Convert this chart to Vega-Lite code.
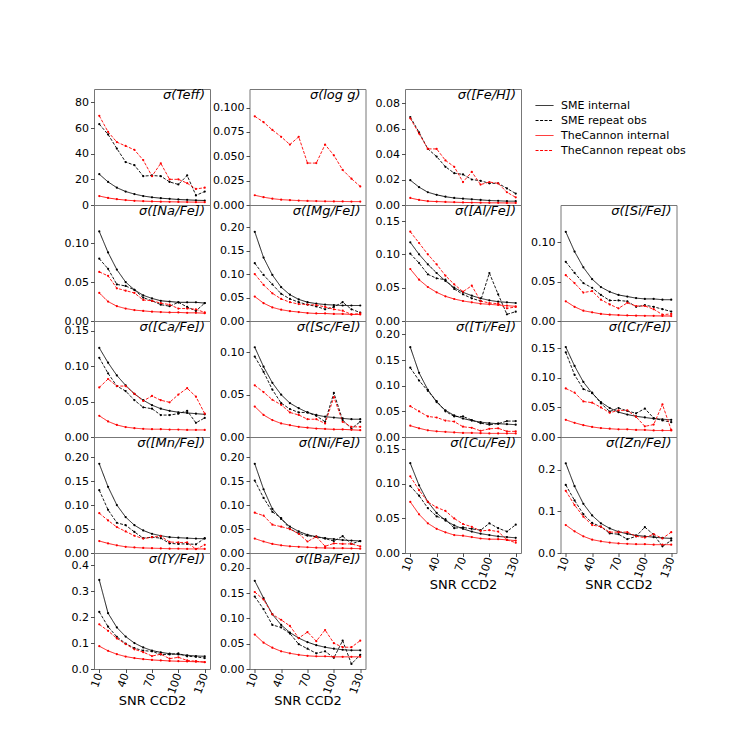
{
  "$schema": "https://vega.github.io/schema/vega-lite/v6.json",
  "padding": {"left": 63, "top": 88, "right": 5, "bottom": 5},
  "background": "white",
  "data": {"values": [
    {"el":"Teff","snr":10,"sme_int":24,"sme_rep":63,"tc_int":7,"tc_rep":69.5},
    {"el":"Teff","snr":20,"sme_int":18,"sme_rep":55,"tc_int":5.5,"tc_rep":57},
    {"el":"Teff","snr":30,"sme_int":13.5,"sme_rep":44,"tc_int":4.5,"tc_rep":49},
    {"el":"Teff","snr":40,"sme_int":10.5,"sme_rep":33.5,"tc_int":3.8,"tc_rep":46},
    {"el":"Teff","snr":50,"sme_int":8.5,"sme_rep":31,"tc_int":3.3,"tc_rep":43},
    {"el":"Teff","snr":60,"sme_int":7,"sme_rep":22.5,"tc_int":3,"tc_rep":35},
    {"el":"Teff","snr":70,"sme_int":6,"sme_rep":23,"tc_int":2.8,"tc_rep":22.5},
    {"el":"Teff","snr":80,"sme_int":5.3,"sme_rep":22.5,"tc_int":2.6,"tc_rep":32.5},
    {"el":"Teff","snr":90,"sme_int":4.8,"sme_rep":18,"tc_int":2.5,"tc_rep":20},
    {"el":"Teff","snr":100,"sme_int":4.3,"sme_rep":16,"tc_int":2.4,"tc_rep":20},
    {"el":"Teff","snr":110,"sme_int":4,"sme_rep":23,"tc_int":2.3,"tc_rep":17},
    {"el":"Teff","snr":120,"sme_int":3.7,"sme_rep":7.5,"tc_int":2.2,"tc_rep":12.5},
    {"el":"Teff","snr":130,"sme_int":3.5,"sme_rep":10.5,"tc_int":2.2,"tc_rep":13.5},

    {"el":"logg","snr":10,"sme_int":null,"sme_rep":null,"tc_int":0.010,"tc_rep":0.091},
    {"el":"logg","snr":20,"sme_int":null,"sme_rep":null,"tc_int":0.008,"tc_rep":0.085},
    {"el":"logg","snr":30,"sme_int":null,"sme_rep":null,"tc_int":0.0065,"tc_rep":0.077},
    {"el":"logg","snr":40,"sme_int":null,"sme_rep":null,"tc_int":0.0055,"tc_rep":0.070},
    {"el":"logg","snr":50,"sme_int":null,"sme_rep":null,"tc_int":0.005,"tc_rep":0.062},
    {"el":"logg","snr":60,"sme_int":null,"sme_rep":null,"tc_int":0.0045,"tc_rep":0.070},
    {"el":"logg","snr":70,"sme_int":null,"sme_rep":null,"tc_int":0.0042,"tc_rep":0.043},
    {"el":"logg","snr":80,"sme_int":null,"sme_rep":null,"tc_int":0.004,"tc_rep":0.043},
    {"el":"logg","snr":90,"sme_int":null,"sme_rep":null,"tc_int":0.0038,"tc_rep":0.062},
    {"el":"logg","snr":100,"sme_int":null,"sme_rep":null,"tc_int":0.0037,"tc_rep":0.051},
    {"el":"logg","snr":110,"sme_int":null,"sme_rep":null,"tc_int":0.0036,"tc_rep":0.036},
    {"el":"logg","snr":120,"sme_int":null,"sme_rep":null,"tc_int":0.0035,"tc_rep":0.027},
    {"el":"logg","snr":130,"sme_int":null,"sme_rep":null,"tc_int":0.0035,"tc_rep":0.019},

    {"el":"FeH","snr":10,"sme_int":0.0195,"sme_rep":0.069,"tc_int":0.0055,"tc_rep":0.068},
    {"el":"FeH","snr":20,"sme_int":0.014,"sme_rep":0.057,"tc_int":0.004,"tc_rep":0.056},
    {"el":"FeH","snr":30,"sme_int":0.010,"sme_rep":0.044,"tc_int":0.003,"tc_rep":0.044},
    {"el":"FeH","snr":40,"sme_int":0.008,"sme_rep":0.038,"tc_int":0.0027,"tc_rep":0.044},
    {"el":"FeH","snr":50,"sme_int":0.0065,"sme_rep":0.030,"tc_int":0.0024,"tc_rep":0.035},
    {"el":"FeH","snr":60,"sme_int":0.0055,"sme_rep":0.025,"tc_int":0.0022,"tc_rep":0.030},
    {"el":"FeH","snr":70,"sme_int":0.005,"sme_rep":0.024,"tc_int":0.002,"tc_rep":0.018},
    {"el":"FeH","snr":80,"sme_int":0.0045,"sme_rep":0.020,"tc_int":0.0019,"tc_rep":0.026},
    {"el":"FeH","snr":90,"sme_int":0.004,"sme_rep":0.019,"tc_int":0.0018,"tc_rep":0.016},
    {"el":"FeH","snr":100,"sme_int":0.0035,"sme_rep":0.017,"tc_int":0.0017,"tc_rep":0.018},
    {"el":"FeH","snr":110,"sme_int":0.0033,"sme_rep":0.017,"tc_int":0.0017,"tc_rep":0.017},
    {"el":"FeH","snr":120,"sme_int":0.003,"sme_rep":0.013,"tc_int":0.0016,"tc_rep":0.010},
    {"el":"FeH","snr":130,"sme_int":0.003,"sme_rep":0.009,"tc_int":0.0016,"tc_rep":0.006},

    {"el":"Na","snr":10,"sme_int":0.115,"sme_rep":0.080,"tc_int":0.036,"tc_rep":0.063},
    {"el":"Na","snr":20,"sme_int":0.088,"sme_rep":0.067,"tc_int":0.025,"tc_rep":0.058},
    {"el":"Na","snr":30,"sme_int":0.066,"sme_rep":0.047,"tc_int":0.019,"tc_rep":0.042},
    {"el":"Na","snr":40,"sme_int":0.050,"sme_rep":0.045,"tc_int":0.016,"tc_rep":0.039},
    {"el":"Na","snr":50,"sme_int":0.040,"sme_rep":0.040,"tc_int":0.014,"tc_rep":0.036},
    {"el":"Na","snr":60,"sme_int":0.033,"sme_rep":0.030,"tc_int":0.013,"tc_rep":0.027},
    {"el":"Na","snr":70,"sme_int":0.029,"sme_rep":0.026,"tc_int":0.012,"tc_rep":0.026},
    {"el":"Na","snr":80,"sme_int":0.026,"sme_rep":0.021,"tc_int":0.0115,"tc_rep":0.023},
    {"el":"Na","snr":90,"sme_int":0.025,"sme_rep":0.019,"tc_int":0.011,"tc_rep":0.021},
    {"el":"Na","snr":100,"sme_int":0.024,"sme_rep":0.024,"tc_int":0.011,"tc_rep":0.016},
    {"el":"Na","snr":110,"sme_int":0.024,"sme_rep":0.018,"tc_int":0.0105,"tc_rep":0.016},
    {"el":"Na","snr":120,"sme_int":0.024,"sme_rep":0.013,"tc_int":0.0105,"tc_rep":0.015},
    {"el":"Na","snr":130,"sme_int":0.023,"sme_rep":0.023,"tc_int":0.010,"tc_rep":0.011},

    {"el":"Mg","snr":10,"sme_int":0.190,"sme_rep":0.123,"tc_int":0.052,"tc_rep":0.100},
    {"el":"Mg","snr":20,"sme_int":0.135,"sme_rep":0.098,"tc_int":0.038,"tc_rep":0.077},
    {"el":"Mg","snr":30,"sme_int":0.098,"sme_rep":0.078,"tc_int":0.029,"tc_rep":0.059},
    {"el":"Mg","snr":40,"sme_int":0.072,"sme_rep":0.058,"tc_int":0.024,"tc_rep":0.047},
    {"el":"Mg","snr":50,"sme_int":0.056,"sme_rep":0.047,"tc_int":0.021,"tc_rep":0.040},
    {"el":"Mg","snr":60,"sme_int":0.046,"sme_rep":0.040,"tc_int":0.019,"tc_rep":0.036},
    {"el":"Mg","snr":70,"sme_int":0.040,"sme_rep":0.035,"tc_int":0.017,"tc_rep":0.035},
    {"el":"Mg","snr":80,"sme_int":0.037,"sme_rep":0.031,"tc_int":0.016,"tc_rep":0.034},
    {"el":"Mg","snr":90,"sme_int":0.035,"sme_rep":0.025,"tc_int":0.016,"tc_rep":0.030},
    {"el":"Mg","snr":100,"sme_int":0.034,"sme_rep":0.030,"tc_int":0.015,"tc_rep":0.025},
    {"el":"Mg","snr":110,"sme_int":0.033,"sme_rep":0.040,"tc_int":0.015,"tc_rep":0.022},
    {"el":"Mg","snr":120,"sme_int":0.033,"sme_rep":0.025,"tc_int":0.014,"tc_rep":0.014},
    {"el":"Mg","snr":130,"sme_int":0.033,"sme_rep":0.018,"tc_int":0.014,"tc_rep":0.016},

    {"el":"Al","snr":10,"sme_int":0.118,"sme_rep":0.101,"tc_int":0.078,"tc_rep":0.134},
    {"el":"Al","snr":20,"sme_int":0.100,"sme_rep":0.087,"tc_int":0.062,"tc_rep":0.117},
    {"el":"Al","snr":30,"sme_int":0.085,"sme_rep":0.070,"tc_int":0.051,"tc_rep":0.100},
    {"el":"Al","snr":40,"sme_int":0.072,"sme_rep":0.064,"tc_int":0.043,"tc_rep":0.085},
    {"el":"Al","snr":50,"sme_int":0.060,"sme_rep":0.062,"tc_int":0.037,"tc_rep":0.068},
    {"el":"Al","snr":60,"sme_int":0.050,"sme_rep":0.048,"tc_int":0.033,"tc_rep":0.055},
    {"el":"Al","snr":70,"sme_int":0.043,"sme_rep":0.040,"tc_int":0.030,"tc_rep":0.044},
    {"el":"Al","snr":80,"sme_int":0.038,"sme_rep":0.034,"tc_int":0.028,"tc_rep":0.053},
    {"el":"Al","snr":90,"sme_int":0.034,"sme_rep":0.030,"tc_int":0.026,"tc_rep":0.030},
    {"el":"Al","snr":100,"sme_int":0.031,"sme_rep":0.072,"tc_int":0.025,"tc_rep":0.027},
    {"el":"Al","snr":110,"sme_int":0.029,"sme_rep":0.040,"tc_int":0.024,"tc_rep":0.026},
    {"el":"Al","snr":120,"sme_int":0.028,"sme_rep":0.010,"tc_int":0.023,"tc_rep":0.019},
    {"el":"Al","snr":130,"sme_int":0.027,"sme_rep":0.014,"tc_int":0.022,"tc_rep":0.021},

    {"el":"Si","snr":10,"sme_int":0.113,"sme_rep":0.075,"tc_int":0.025,"tc_rep":0.058},
    {"el":"Si","snr":20,"sme_int":0.088,"sme_rep":0.061,"tc_int":0.018,"tc_rep":0.048},
    {"el":"Si","snr":30,"sme_int":0.068,"sme_rep":0.048,"tc_int":0.013,"tc_rep":0.036},
    {"el":"Si","snr":40,"sme_int":0.053,"sme_rep":0.042,"tc_int":0.011,"tc_rep":0.038},
    {"el":"Si","snr":50,"sme_int":0.043,"sme_rep":0.033,"tc_int":0.009,"tc_rep":0.027},
    {"el":"Si","snr":60,"sme_int":0.037,"sme_rep":0.026,"tc_int":0.008,"tc_rep":0.021},
    {"el":"Si","snr":70,"sme_int":0.033,"sme_rep":0.026,"tc_int":0.0075,"tc_rep":0.016},
    {"el":"Si","snr":80,"sme_int":0.031,"sme_rep":0.025,"tc_int":0.007,"tc_rep":0.023},
    {"el":"Si","snr":90,"sme_int":0.029,"sme_rep":0.018,"tc_int":0.0068,"tc_rep":0.019},
    {"el":"Si","snr":100,"sme_int":0.028,"sme_rep":0.020,"tc_int":0.0066,"tc_rep":0.019},
    {"el":"Si","snr":110,"sme_int":0.028,"sme_rep":0.018,"tc_int":0.0065,"tc_rep":0.015},
    {"el":"Si","snr":120,"sme_int":0.027,"sme_rep":0.015,"tc_int":0.0064,"tc_rep":0.008},
    {"el":"Si","snr":130,"sme_int":0.027,"sme_rep":0.012,"tc_int":0.0063,"tc_rep":0.009},

    {"el":"Ca","snr":10,"sme_int":0.126,"sme_rep":0.112,"tc_int":0.030,"tc_rep":0.070},
    {"el":"Ca","snr":20,"sme_int":0.105,"sme_rep":0.090,"tc_int":0.022,"tc_rep":0.082},
    {"el":"Ca","snr":30,"sme_int":0.087,"sme_rep":0.072,"tc_int":0.017,"tc_rep":0.072},
    {"el":"Ca","snr":40,"sme_int":0.073,"sme_rep":0.065,"tc_int":0.014,"tc_rep":0.072},
    {"el":"Ca","snr":50,"sme_int":0.061,"sme_rep":0.052,"tc_int":0.0125,"tc_rep":0.061},
    {"el":"Ca","snr":60,"sme_int":0.052,"sme_rep":0.042,"tc_int":0.0115,"tc_rep":0.051},
    {"el":"Ca","snr":70,"sme_int":0.045,"sme_rep":0.040,"tc_int":0.011,"tc_rep":0.058},
    {"el":"Ca","snr":80,"sme_int":0.040,"sme_rep":0.031,"tc_int":0.011,"tc_rep":0.052},
    {"el":"Ca","snr":90,"sme_int":0.037,"sme_rep":0.031,"tc_int":0.0105,"tc_rep":0.049},
    {"el":"Ca","snr":100,"sme_int":0.035,"sme_rep":0.033,"tc_int":0.0105,"tc_rep":0.060},
    {"el":"Ca","snr":110,"sme_int":0.034,"sme_rep":0.037,"tc_int":0.010,"tc_rep":0.069},
    {"el":"Ca","snr":120,"sme_int":0.033,"sme_rep":0.020,"tc_int":0.010,"tc_rep":0.057},
    {"el":"Ca","snr":130,"sme_int":0.032,"sme_rep":0.027,"tc_int":0.010,"tc_rep":0.033},

    {"el":"Sc","snr":10,"sme_int":0.106,"sme_rep":0.095,"tc_int":0.036,"tc_rep":0.061},
    {"el":"Sc","snr":20,"sme_int":0.083,"sme_rep":0.077,"tc_int":0.026,"tc_rep":0.053},
    {"el":"Sc","snr":30,"sme_int":0.064,"sme_rep":0.056,"tc_int":0.020,"tc_rep":0.044},
    {"el":"Sc","snr":40,"sme_int":0.050,"sme_rep":0.040,"tc_int":0.016,"tc_rep":0.038},
    {"el":"Sc","snr":50,"sme_int":0.040,"sme_rep":0.033,"tc_int":0.014,"tc_rep":0.029},
    {"el":"Sc","snr":60,"sme_int":0.034,"sme_rep":0.029,"tc_int":0.012,"tc_rep":0.026},
    {"el":"Sc","snr":70,"sme_int":0.029,"sme_rep":0.029,"tc_int":0.011,"tc_rep":0.021},
    {"el":"Sc","snr":80,"sme_int":0.026,"sme_rep":0.025,"tc_int":0.010,"tc_rep":0.021},
    {"el":"Sc","snr":90,"sme_int":0.024,"sme_rep":0.018,"tc_int":0.0095,"tc_rep":0.016},
    {"el":"Sc","snr":100,"sme_int":0.023,"sme_rep":0.052,"tc_int":0.009,"tc_rep":0.047},
    {"el":"Sc","snr":110,"sme_int":0.022,"sme_rep":0.020,"tc_int":0.009,"tc_rep":0.018},
    {"el":"Sc","snr":120,"sme_int":0.021,"sme_rep":0.010,"tc_int":0.0085,"tc_rep":0.012},
    {"el":"Sc","snr":130,"sme_int":0.021,"sme_rep":0.018,"tc_int":0.008,"tc_rep":0.012},

    {"el":"Ti","snr":10,"sme_int":0.175,"sme_rep":0.135,"tc_int":0.022,"tc_rep":0.060},
    {"el":"Ti","snr":20,"sme_int":0.125,"sme_rep":0.110,"tc_int":0.017,"tc_rep":0.050},
    {"el":"Ti","snr":30,"sme_int":0.092,"sme_rep":0.090,"tc_int":0.013,"tc_rep":0.040},
    {"el":"Ti","snr":40,"sme_int":0.068,"sme_rep":0.070,"tc_int":0.011,"tc_rep":0.038},
    {"el":"Ti","snr":50,"sme_int":0.052,"sme_rep":0.050,"tc_int":0.010,"tc_rep":0.032},
    {"el":"Ti","snr":60,"sme_int":0.042,"sme_rep":0.040,"tc_int":0.009,"tc_rep":0.030},
    {"el":"Ti","snr":70,"sme_int":0.036,"sme_rep":0.040,"tc_int":0.008,"tc_rep":0.020},
    {"el":"Ti","snr":80,"sme_int":0.032,"sme_rep":0.033,"tc_int":0.008,"tc_rep":0.018},
    {"el":"Ti","snr":90,"sme_int":0.029,"sme_rep":0.027,"tc_int":0.0075,"tc_rep":0.012},
    {"el":"Ti","snr":100,"sme_int":0.027,"sme_rep":0.024,"tc_int":0.007,"tc_rep":0.016},
    {"el":"Ti","snr":110,"sme_int":0.026,"sme_rep":0.026,"tc_int":0.007,"tc_rep":0.017},
    {"el":"Ti","snr":120,"sme_int":0.025,"sme_rep":0.031,"tc_int":0.007,"tc_rep":0.011},
    {"el":"Ti","snr":130,"sme_int":0.024,"sme_rep":0.031,"tc_int":0.007,"tc_rep":0.011},

    {"el":"Cr","snr":10,"sme_int":0.152,"sme_rep":0.143,"tc_int":0.029,"tc_rep":0.082},
    {"el":"Cr","snr":20,"sme_int":0.120,"sme_rep":0.105,"tc_int":0.024,"tc_rep":0.075},
    {"el":"Cr","snr":30,"sme_int":0.093,"sme_rep":0.081,"tc_int":0.020,"tc_rep":0.060},
    {"el":"Cr","snr":40,"sme_int":0.074,"sme_rep":0.075,"tc_int":0.017,"tc_rep":0.058},
    {"el":"Cr","snr":50,"sme_int":0.059,"sme_rep":0.057,"tc_int":0.015,"tc_rep":0.050},
    {"el":"Cr","snr":60,"sme_int":0.049,"sme_rep":0.043,"tc_int":0.014,"tc_rep":0.041},
    {"el":"Cr","snr":70,"sme_int":0.042,"sme_rep":0.049,"tc_int":0.013,"tc_rep":0.045},
    {"el":"Cr","snr":80,"sme_int":0.038,"sme_rep":0.044,"tc_int":0.013,"tc_rep":0.045},
    {"el":"Cr","snr":90,"sme_int":0.035,"sme_rep":0.040,"tc_int":0.012,"tc_rep":0.034},
    {"el":"Cr","snr":100,"sme_int":0.033,"sme_rep":0.048,"tc_int":0.012,"tc_rep":0.018},
    {"el":"Cr","snr":110,"sme_int":0.031,"sme_rep":0.032,"tc_int":0.011,"tc_rep":0.021},
    {"el":"Cr","snr":120,"sme_int":0.030,"sme_rep":0.028,"tc_int":0.011,"tc_rep":0.055},
    {"el":"Cr","snr":130,"sme_int":0.029,"sme_rep":0.025,"tc_int":0.011,"tc_rep":0.012},

    {"el":"Mn","snr":10,"sme_int":0.186,"sme_rep":0.131,"tc_int":0.025,"tc_rep":0.083},
    {"el":"Mn","snr":20,"sme_int":0.138,"sme_rep":0.090,"tc_int":0.020,"tc_rep":0.068},
    {"el":"Mn","snr":30,"sme_int":0.100,"sme_rep":0.063,"tc_int":0.016,"tc_rep":0.054},
    {"el":"Mn","snr":40,"sme_int":0.075,"sme_rep":0.058,"tc_int":0.013,"tc_rep":0.045},
    {"el":"Mn","snr":50,"sme_int":0.058,"sme_rep":0.044,"tc_int":0.0115,"tc_rep":0.036},
    {"el":"Mn","snr":60,"sme_int":0.047,"sme_rep":0.031,"tc_int":0.0105,"tc_rep":0.030},
    {"el":"Mn","snr":70,"sme_int":0.040,"sme_rep":0.033,"tc_int":0.010,"tc_rep":0.033},
    {"el":"Mn","snr":80,"sme_int":0.036,"sme_rep":0.031,"tc_int":0.0095,"tc_rep":0.035},
    {"el":"Mn","snr":90,"sme_int":0.033,"sme_rep":0.020,"tc_int":0.009,"tc_rep":0.023},
    {"el":"Mn","snr":100,"sme_int":0.032,"sme_rep":0.019,"tc_int":0.009,"tc_rep":0.022},
    {"el":"Mn","snr":110,"sme_int":0.031,"sme_rep":0.019,"tc_int":0.0085,"tc_rep":0.022},
    {"el":"Mn","snr":120,"sme_int":0.030,"sme_rep":0.018,"tc_int":0.0085,"tc_rep":0.008},
    {"el":"Mn","snr":130,"sme_int":0.030,"sme_rep":0.031,"tc_int":0.0085,"tc_rep":0.017},

    {"el":"Ni","snr":10,"sme_int":0.186,"sme_rep":0.151,"tc_int":0.030,"tc_rep":0.084},
    {"el":"Ni","snr":20,"sme_int":0.133,"sme_rep":0.115,"tc_int":0.024,"tc_rep":0.078},
    {"el":"Ni","snr":30,"sme_int":0.092,"sme_rep":0.086,"tc_int":0.019,"tc_rep":0.059},
    {"el":"Ni","snr":40,"sme_int":0.071,"sme_rep":0.073,"tc_int":0.016,"tc_rep":0.055},
    {"el":"Ni","snr":50,"sme_int":0.055,"sme_rep":0.050,"tc_int":0.014,"tc_rep":0.050},
    {"el":"Ni","snr":60,"sme_int":0.045,"sme_rep":0.041,"tc_int":0.013,"tc_rep":0.040},
    {"el":"Ni","snr":70,"sme_int":0.038,"sme_rep":0.036,"tc_int":0.012,"tc_rep":0.024},
    {"el":"Ni","snr":80,"sme_int":0.034,"sme_rep":0.034,"tc_int":0.011,"tc_rep":0.034},
    {"el":"Ni","snr":90,"sme_int":0.031,"sme_rep":0.030,"tc_int":0.0105,"tc_rep":0.014},
    {"el":"Ni","snr":100,"sme_int":0.029,"sme_rep":0.025,"tc_int":0.010,"tc_rep":0.020},
    {"el":"Ni","snr":110,"sme_int":0.027,"sme_rep":0.035,"tc_int":0.010,"tc_rep":0.019},
    {"el":"Ni","snr":120,"sme_int":0.026,"sme_rep":0.019,"tc_int":0.0095,"tc_rep":0.019},
    {"el":"Ni","snr":130,"sme_int":0.025,"sme_rep":0.025,"tc_int":0.009,"tc_rep":0.014},

    {"el":"Cu","snr":10,"sme_int":0.130,"sme_rep":0.097,"tc_int":0.074,"tc_rep":0.111},
    {"el":"Cu","snr":20,"sme_int":0.098,"sme_rep":0.083,"tc_int":0.056,"tc_rep":0.091},
    {"el":"Cu","snr":30,"sme_int":0.074,"sme_rep":0.065,"tc_int":0.043,"tc_rep":0.074},
    {"el":"Cu","snr":40,"sme_int":0.058,"sme_rep":0.053,"tc_int":0.035,"tc_rep":0.066},
    {"el":"Cu","snr":50,"sme_int":0.047,"sme_rep":0.049,"tc_int":0.030,"tc_rep":0.061},
    {"el":"Cu","snr":60,"sme_int":0.040,"sme_rep":0.036,"tc_int":0.026,"tc_rep":0.050},
    {"el":"Cu","snr":70,"sme_int":0.035,"sme_rep":0.037,"tc_int":0.025,"tc_rep":0.042},
    {"el":"Cu","snr":80,"sme_int":0.031,"sme_rep":0.035,"tc_int":0.023,"tc_rep":0.038},
    {"el":"Cu","snr":90,"sme_int":0.028,"sme_rep":0.033,"tc_int":0.021,"tc_rep":0.032},
    {"el":"Cu","snr":100,"sme_int":0.026,"sme_rep":0.043,"tc_int":0.020,"tc_rep":0.033},
    {"el":"Cu","snr":110,"sme_int":0.024,"sme_rep":0.036,"tc_int":0.020,"tc_rep":0.031},
    {"el":"Cu","snr":120,"sme_int":0.023,"sme_rep":0.031,"tc_int":0.019,"tc_rep":0.019},
    {"el":"Cu","snr":130,"sme_int":0.022,"sme_rep":0.041,"tc_int":0.018,"tc_rep":0.015},

    {"el":"Zn","snr":10,"sme_int":0.215,"sme_rep":0.163,"tc_int":0.067,"tc_rep":0.149},
    {"el":"Zn","snr":20,"sme_int":0.160,"sme_rep":0.126,"tc_int":0.052,"tc_rep":0.115},
    {"el":"Zn","snr":30,"sme_int":0.118,"sme_rep":0.093,"tc_int":0.040,"tc_rep":0.087},
    {"el":"Zn","snr":40,"sme_int":0.090,"sme_rep":0.072,"tc_int":0.032,"tc_rep":0.067},
    {"el":"Zn","snr":50,"sme_int":0.071,"sme_rep":0.063,"tc_int":0.028,"tc_rep":0.063},
    {"el":"Zn","snr":60,"sme_int":0.059,"sme_rep":0.047,"tc_int":0.025,"tc_rep":0.050},
    {"el":"Zn","snr":70,"sme_int":0.051,"sme_rep":0.045,"tc_int":0.023,"tc_rep":0.050},
    {"el":"Zn","snr":80,"sme_int":0.046,"sme_rep":0.033,"tc_int":0.022,"tc_rep":0.050},
    {"el":"Zn","snr":90,"sme_int":0.042,"sme_rep":0.040,"tc_int":0.021,"tc_rep":0.040},
    {"el":"Zn","snr":100,"sme_int":0.040,"sme_rep":0.062,"tc_int":0.021,"tc_rep":0.037},
    {"el":"Zn","snr":110,"sme_int":0.038,"sme_rep":0.044,"tc_int":0.020,"tc_rep":0.045},
    {"el":"Zn","snr":120,"sme_int":0.036,"sme_rep":0.016,"tc_int":0.020,"tc_rep":0.035},
    {"el":"Zn","snr":130,"sme_int":0.035,"sme_rep":0.030,"tc_int":0.020,"tc_rep":0.050},

    {"el":"Y","snr":10,"sme_int":0.343,"sme_rep":0.220,"tc_int":0.088,"tc_rep":0.172},
    {"el":"Y","snr":20,"sme_int":0.215,"sme_rep":0.163,"tc_int":0.070,"tc_rep":0.147},
    {"el":"Y","snr":30,"sme_int":0.160,"sme_rep":0.124,"tc_int":0.057,"tc_rep":0.118},
    {"el":"Y","snr":40,"sme_int":0.125,"sme_rep":0.098,"tc_int":0.048,"tc_rep":0.096},
    {"el":"Y","snr":50,"sme_int":0.100,"sme_rep":0.080,"tc_int":0.042,"tc_rep":0.076},
    {"el":"Y","snr":60,"sme_int":0.083,"sme_rep":0.071,"tc_int":0.038,"tc_rep":0.065},
    {"el":"Y","snr":70,"sme_int":0.071,"sme_rep":0.068,"tc_int":0.035,"tc_rep":0.050},
    {"el":"Y","snr":80,"sme_int":0.064,"sme_rep":0.056,"tc_int":0.033,"tc_rep":0.057},
    {"el":"Y","snr":90,"sme_int":0.059,"sme_rep":0.056,"tc_int":0.031,"tc_rep":0.040},
    {"el":"Y","snr":100,"sme_int":0.056,"sme_rep":0.060,"tc_int":0.030,"tc_rep":0.045},
    {"el":"Y","snr":110,"sme_int":0.053,"sme_rep":0.049,"tc_int":0.029,"tc_rep":0.033},
    {"el":"Y","snr":120,"sme_int":0.050,"sme_rep":0.047,"tc_int":0.028,"tc_rep":0.030},
    {"el":"Y","snr":130,"sme_int":0.049,"sme_rep":0.042,"tc_int":0.027,"tc_rep":0.026},

    {"el":"Ba","snr":10,"sme_int":0.174,"sme_rep":0.143,"tc_int":0.068,"tc_rep":0.152},
    {"el":"Ba","snr":20,"sme_int":0.140,"sme_rep":0.118,"tc_int":0.052,"tc_rep":0.137},
    {"el":"Ba","snr":30,"sme_int":0.108,"sme_rep":0.087,"tc_int":0.042,"tc_rep":0.108},
    {"el":"Ba","snr":40,"sme_int":0.087,"sme_rep":0.082,"tc_int":0.035,"tc_rep":0.097},
    {"el":"Ba","snr":50,"sme_int":0.072,"sme_rep":0.070,"tc_int":0.031,"tc_rep":0.085},
    {"el":"Ba","snr":60,"sme_int":0.061,"sme_rep":0.049,"tc_int":0.028,"tc_rep":0.061},
    {"el":"Ba","snr":70,"sme_int":0.053,"sme_rep":0.040,"tc_int":0.026,"tc_rep":0.073},
    {"el":"Ba","snr":80,"sme_int":0.047,"sme_rep":0.031,"tc_int":0.025,"tc_rep":0.055},
    {"el":"Ba","snr":90,"sme_int":0.043,"sme_rep":0.035,"tc_int":0.025,"tc_rep":0.077},
    {"el":"Ba","snr":100,"sme_int":0.040,"sme_rep":0.022,"tc_int":0.024,"tc_rep":0.051},
    {"el":"Ba","snr":110,"sme_int":0.038,"sme_rep":0.056,"tc_int":0.024,"tc_rep":0.043},
    {"el":"Ba","snr":120,"sme_int":0.037,"sme_rep":0.010,"tc_int":0.024,"tc_rep":0.043},
    {"el":"Ba","snr":130,"sme_int":0.037,"sme_rep":0.028,"tc_int":0.024,"tc_rep":0.056}
  ]},
  "transform": [{"fold": ["sme_int", "sme_rep", "tc_int", "tc_rep"], "as": ["series", "value"]}],
  "bounds": "flush",
  "columns": 4,
  "spacing": {"row": 0, "column": 39.5},
  "concat": [
    {"width": 116, "height": 116, "title": {"text": "σ(Teff)"},
     "transform": [{"filter": "datum.el == 'Teff' && isValid(datum.value)"}],
     "mark": {"type": "line", "strokeWidth": 0.9, "point": {"filled": true, "size": 5}},
     "encoding": {
       "x": {"field": "snr", "type": "quantitative", "scale": {"domain": [4, 136]}, "axis": null},
       "y": {"field": "value", "type": "quantitative", "title": null, "scale": {"domain": [0, 90.4]}, "axis": {"values": [0, 20, 40, 60, 80], "format": "d"}},
       "color": {"field": "series", "type": "nominal", "title": null, "scale": {"domain": ["sme_int", "sme_rep", "tc_int", "tc_rep"], "range": ["#000000", "#000000", "#ff0000", "#ff0000"]}, "legend": {"labelExpr": "{'sme_int': 'SME internal', 'sme_rep': 'SME repeat obs', 'tc_int': 'TheCannon internal', 'tc_rep': 'TheCannon repeat obs'}[datum.label]"}},
       "strokeDash": {"field": "series", "type": "nominal", "title": null, "scale": {"domain": ["sme_int", "sme_rep", "tc_int", "tc_rep"], "range": [[1, 0], [3, 1.5], [1, 0], [3, 1.5]]}, "legend": {"labelExpr": "{'sme_int': 'SME internal', 'sme_rep': 'SME repeat obs', 'tc_int': 'TheCannon internal', 'tc_rep': 'TheCannon repeat obs'}[datum.label]"}}
     }},
    {"width": 116, "height": 116, "title": {"text": "σ(log g)"},
     "transform": [{"filter": "datum.el == 'logg' && isValid(datum.value)"}],
     "mark": {"type": "line", "strokeWidth": 0.9, "point": {"filled": true, "size": 5}},
     "encoding": {
       "x": {"field": "snr", "type": "quantitative", "scale": {"domain": [4, 136]}, "axis": null},
       "y": {"field": "value", "type": "quantitative", "title": null, "scale": {"domain": [0, 0.119]}, "axis": {"values": [0, 0.025, 0.05, 0.075, 0.1], "format": ".3f"}},
       "color": {"field": "series", "type": "nominal", "title": null, "scale": {"domain": ["sme_int", "sme_rep", "tc_int", "tc_rep"], "range": ["#000000", "#000000", "#ff0000", "#ff0000"]}, "legend": {"labelExpr": "{'sme_int': 'SME internal', 'sme_rep': 'SME repeat obs', 'tc_int': 'TheCannon internal', 'tc_rep': 'TheCannon repeat obs'}[datum.label]"}},
       "strokeDash": {"field": "series", "type": "nominal", "title": null, "scale": {"domain": ["sme_int", "sme_rep", "tc_int", "tc_rep"], "range": [[1, 0], [3, 1.5], [1, 0], [3, 1.5]]}, "legend": {"labelExpr": "{'sme_int': 'SME internal', 'sme_rep': 'SME repeat obs', 'tc_int': 'TheCannon internal', 'tc_rep': 'TheCannon repeat obs'}[datum.label]"}}
     }},
    {"width": 116, "height": 116, "title": {"text": "σ([Fe/H])"},
     "transform": [{"filter": "datum.el == 'FeH' && isValid(datum.value)"}],
     "mark": {"type": "line", "strokeWidth": 0.9, "point": {"filled": true, "size": 5}},
     "encoding": {
       "x": {"field": "snr", "type": "quantitative", "scale": {"domain": [4, 136]}, "axis": null},
       "y": {"field": "value", "type": "quantitative", "title": null, "scale": {"domain": [0, 0.091]}, "axis": {"values": [0, 0.02, 0.04, 0.06, 0.08], "format": ".2f"}},
       "color": {"field": "series", "type": "nominal", "title": null, "scale": {"domain": ["sme_int", "sme_rep", "tc_int", "tc_rep"], "range": ["#000000", "#000000", "#ff0000", "#ff0000"]}, "legend": {"labelExpr": "{'sme_int': 'SME internal', 'sme_rep': 'SME repeat obs', 'tc_int': 'TheCannon internal', 'tc_rep': 'TheCannon repeat obs'}[datum.label]"}},
       "strokeDash": {"field": "series", "type": "nominal", "title": null, "scale": {"domain": ["sme_int", "sme_rep", "tc_int", "tc_rep"], "range": [[1, 0], [3, 1.5], [1, 0], [3, 1.5]]}, "legend": {"labelExpr": "{'sme_int': 'SME internal', 'sme_rep': 'SME repeat obs', 'tc_int': 'TheCannon internal', 'tc_rep': 'TheCannon repeat obs'}[datum.label]"}}
     }},
    {"width": 116, "height": 116, "view": {"stroke": null},
     "transform": [{"filter": "datum.el == 'none'"}],
     "mark": {"type": "point", "opacity": 0},
     "encoding": {}},
    {"width": 116, "height": 116, "title": {"text": "σ([Na/Fe])"},
     "transform": [{"filter": "datum.el == 'Na' && isValid(datum.value)"}],
     "mark": {"type": "line", "strokeWidth": 0.9, "point": {"filled": true, "size": 5}},
     "encoding": {
       "x": {"field": "snr", "type": "quantitative", "scale": {"domain": [4, 136]}, "axis": null},
       "y": {"field": "value", "type": "quantitative", "title": null, "scale": {"domain": [0, 0.149]}, "axis": {"values": [0, 0.05, 0.1], "format": ".2f"}},
       "color": {"field": "series", "type": "nominal", "title": null, "scale": {"domain": ["sme_int", "sme_rep", "tc_int", "tc_rep"], "range": ["#000000", "#000000", "#ff0000", "#ff0000"]}, "legend": {"labelExpr": "{'sme_int': 'SME internal', 'sme_rep': 'SME repeat obs', 'tc_int': 'TheCannon internal', 'tc_rep': 'TheCannon repeat obs'}[datum.label]"}},
       "strokeDash": {"field": "series", "type": "nominal", "title": null, "scale": {"domain": ["sme_int", "sme_rep", "tc_int", "tc_rep"], "range": [[1, 0], [3, 1.5], [1, 0], [3, 1.5]]}, "legend": {"labelExpr": "{'sme_int': 'SME internal', 'sme_rep': 'SME repeat obs', 'tc_int': 'TheCannon internal', 'tc_rep': 'TheCannon repeat obs'}[datum.label]"}}
     }},
    {"width": 116, "height": 116, "title": {"text": "σ([Mg/Fe])"},
     "transform": [{"filter": "datum.el == 'Mg' && isValid(datum.value)"}],
     "mark": {"type": "line", "strokeWidth": 0.9, "point": {"filled": true, "size": 5}},
     "encoding": {
       "x": {"field": "snr", "type": "quantitative", "scale": {"domain": [4, 136]}, "axis": null},
       "y": {"field": "value", "type": "quantitative", "title": null, "scale": {"domain": [0, 0.247]}, "axis": {"values": [0, 0.05, 0.1, 0.15, 0.2], "format": ".2f"}},
       "color": {"field": "series", "type": "nominal", "title": null, "scale": {"domain": ["sme_int", "sme_rep", "tc_int", "tc_rep"], "range": ["#000000", "#000000", "#ff0000", "#ff0000"]}, "legend": {"labelExpr": "{'sme_int': 'SME internal', 'sme_rep': 'SME repeat obs', 'tc_int': 'TheCannon internal', 'tc_rep': 'TheCannon repeat obs'}[datum.label]"}},
       "strokeDash": {"field": "series", "type": "nominal", "title": null, "scale": {"domain": ["sme_int", "sme_rep", "tc_int", "tc_rep"], "range": [[1, 0], [3, 1.5], [1, 0], [3, 1.5]]}, "legend": {"labelExpr": "{'sme_int': 'SME internal', 'sme_rep': 'SME repeat obs', 'tc_int': 'TheCannon internal', 'tc_rep': 'TheCannon repeat obs'}[datum.label]"}}
     }},
    {"width": 116, "height": 116, "title": {"text": "σ([Al/Fe])"},
     "transform": [{"filter": "datum.el == 'Al' && isValid(datum.value)"}],
     "mark": {"type": "line", "strokeWidth": 0.9, "point": {"filled": true, "size": 5}},
     "encoding": {
       "x": {"field": "snr", "type": "quantitative", "scale": {"domain": [4, 136]}, "axis": null},
       "y": {"field": "value", "type": "quantitative", "title": null, "scale": {"domain": [0, 0.174]}, "axis": {"values": [0, 0.05, 0.1, 0.15], "format": ".2f"}},
       "color": {"field": "series", "type": "nominal", "title": null, "scale": {"domain": ["sme_int", "sme_rep", "tc_int", "tc_rep"], "range": ["#000000", "#000000", "#ff0000", "#ff0000"]}, "legend": {"labelExpr": "{'sme_int': 'SME internal', 'sme_rep': 'SME repeat obs', 'tc_int': 'TheCannon internal', 'tc_rep': 'TheCannon repeat obs'}[datum.label]"}},
       "strokeDash": {"field": "series", "type": "nominal", "title": null, "scale": {"domain": ["sme_int", "sme_rep", "tc_int", "tc_rep"], "range": [[1, 0], [3, 1.5], [1, 0], [3, 1.5]]}, "legend": {"labelExpr": "{'sme_int': 'SME internal', 'sme_rep': 'SME repeat obs', 'tc_int': 'TheCannon internal', 'tc_rep': 'TheCannon repeat obs'}[datum.label]"}}
     }},
    {"width": 116, "height": 116, "title": {"text": "σ([Si/Fe])"},
     "transform": [{"filter": "datum.el == 'Si' && isValid(datum.value)"}],
     "mark": {"type": "line", "strokeWidth": 0.9, "point": {"filled": true, "size": 5}},
     "encoding": {
       "x": {"field": "snr", "type": "quantitative", "scale": {"domain": [4, 136]}, "axis": null},
       "y": {"field": "value", "type": "quantitative", "title": null, "scale": {"domain": [0, 0.147]}, "axis": {"values": [0, 0.05, 0.1], "format": ".2f"}},
       "color": {"field": "series", "type": "nominal", "title": null, "scale": {"domain": ["sme_int", "sme_rep", "tc_int", "tc_rep"], "range": ["#000000", "#000000", "#ff0000", "#ff0000"]}, "legend": {"labelExpr": "{'sme_int': 'SME internal', 'sme_rep': 'SME repeat obs', 'tc_int': 'TheCannon internal', 'tc_rep': 'TheCannon repeat obs'}[datum.label]"}},
       "strokeDash": {"field": "series", "type": "nominal", "title": null, "scale": {"domain": ["sme_int", "sme_rep", "tc_int", "tc_rep"], "range": [[1, 0], [3, 1.5], [1, 0], [3, 1.5]]}, "legend": {"labelExpr": "{'sme_int': 'SME internal', 'sme_rep': 'SME repeat obs', 'tc_int': 'TheCannon internal', 'tc_rep': 'TheCannon repeat obs'}[datum.label]"}}
     }},
    {"width": 116, "height": 116, "title": {"text": "σ([Ca/Fe])"},
     "transform": [{"filter": "datum.el == 'Ca' && isValid(datum.value)"}],
     "mark": {"type": "line", "strokeWidth": 0.9, "point": {"filled": true, "size": 5}},
     "encoding": {
       "x": {"field": "snr", "type": "quantitative", "scale": {"domain": [4, 136]}, "axis": null},
       "y": {"field": "value", "type": "quantitative", "title": null, "scale": {"domain": [0, 0.164]}, "axis": {"values": [0, 0.05, 0.1, 0.15], "format": ".2f"}},
       "color": {"field": "series", "type": "nominal", "title": null, "scale": {"domain": ["sme_int", "sme_rep", "tc_int", "tc_rep"], "range": ["#000000", "#000000", "#ff0000", "#ff0000"]}, "legend": {"labelExpr": "{'sme_int': 'SME internal', 'sme_rep': 'SME repeat obs', 'tc_int': 'TheCannon internal', 'tc_rep': 'TheCannon repeat obs'}[datum.label]"}},
       "strokeDash": {"field": "series", "type": "nominal", "title": null, "scale": {"domain": ["sme_int", "sme_rep", "tc_int", "tc_rep"], "range": [[1, 0], [3, 1.5], [1, 0], [3, 1.5]]}, "legend": {"labelExpr": "{'sme_int': 'SME internal', 'sme_rep': 'SME repeat obs', 'tc_int': 'TheCannon internal', 'tc_rep': 'TheCannon repeat obs'}[datum.label]"}}
     }},
    {"width": 116, "height": 116, "title": {"text": "σ([Sc/Fe])"},
     "transform": [{"filter": "datum.el == 'Sc' && isValid(datum.value)"}],
     "mark": {"type": "line", "strokeWidth": 0.9, "point": {"filled": true, "size": 5}},
     "encoding": {
       "x": {"field": "snr", "type": "quantitative", "scale": {"domain": [4, 136]}, "axis": null},
       "y": {"field": "value", "type": "quantitative", "title": null, "scale": {"domain": [0, 0.137]}, "axis": {"values": [0, 0.05, 0.1], "format": ".2f"}},
       "color": {"field": "series", "type": "nominal", "title": null, "scale": {"domain": ["sme_int", "sme_rep", "tc_int", "tc_rep"], "range": ["#000000", "#000000", "#ff0000", "#ff0000"]}, "legend": {"labelExpr": "{'sme_int': 'SME internal', 'sme_rep': 'SME repeat obs', 'tc_int': 'TheCannon internal', 'tc_rep': 'TheCannon repeat obs'}[datum.label]"}},
       "strokeDash": {"field": "series", "type": "nominal", "title": null, "scale": {"domain": ["sme_int", "sme_rep", "tc_int", "tc_rep"], "range": [[1, 0], [3, 1.5], [1, 0], [3, 1.5]]}, "legend": {"labelExpr": "{'sme_int': 'SME internal', 'sme_rep': 'SME repeat obs', 'tc_int': 'TheCannon internal', 'tc_rep': 'TheCannon repeat obs'}[datum.label]"}}
     }},
    {"width": 116, "height": 116, "title": {"text": "σ([Ti/Fe])"},
     "transform": [{"filter": "datum.el == 'Ti' && isValid(datum.value)"}],
     "mark": {"type": "line", "strokeWidth": 0.9, "point": {"filled": true, "size": 5}},
     "encoding": {
       "x": {"field": "snr", "type": "quantitative", "scale": {"domain": [4, 136]}, "axis": null},
       "y": {"field": "value", "type": "quantitative", "title": null, "scale": {"domain": [0, 0.226]}, "axis": {"values": [0, 0.05, 0.1, 0.15, 0.2], "format": ".2f"}},
       "color": {"field": "series", "type": "nominal", "title": null, "scale": {"domain": ["sme_int", "sme_rep", "tc_int", "tc_rep"], "range": ["#000000", "#000000", "#ff0000", "#ff0000"]}, "legend": {"labelExpr": "{'sme_int': 'SME internal', 'sme_rep': 'SME repeat obs', 'tc_int': 'TheCannon internal', 'tc_rep': 'TheCannon repeat obs'}[datum.label]"}},
       "strokeDash": {"field": "series", "type": "nominal", "title": null, "scale": {"domain": ["sme_int", "sme_rep", "tc_int", "tc_rep"], "range": [[1, 0], [3, 1.5], [1, 0], [3, 1.5]]}, "legend": {"labelExpr": "{'sme_int': 'SME internal', 'sme_rep': 'SME repeat obs', 'tc_int': 'TheCannon internal', 'tc_rep': 'TheCannon repeat obs'}[datum.label]"}}
     }},
    {"width": 116, "height": 116, "title": {"text": "σ([Cr/Fe])"},
     "transform": [{"filter": "datum.el == 'Cr' && isValid(datum.value)"}],
     "mark": {"type": "line", "strokeWidth": 0.9, "point": {"filled": true, "size": 5}},
     "encoding": {
       "x": {"field": "snr", "type": "quantitative", "scale": {"domain": [4, 136]}, "axis": null},
       "y": {"field": "value", "type": "quantitative", "title": null, "scale": {"domain": [0, 0.196]}, "axis": {"values": [0, 0.05, 0.1, 0.15], "format": ".2f"}},
       "color": {"field": "series", "type": "nominal", "title": null, "scale": {"domain": ["sme_int", "sme_rep", "tc_int", "tc_rep"], "range": ["#000000", "#000000", "#ff0000", "#ff0000"]}, "legend": {"labelExpr": "{'sme_int': 'SME internal', 'sme_rep': 'SME repeat obs', 'tc_int': 'TheCannon internal', 'tc_rep': 'TheCannon repeat obs'}[datum.label]"}},
       "strokeDash": {"field": "series", "type": "nominal", "title": null, "scale": {"domain": ["sme_int", "sme_rep", "tc_int", "tc_rep"], "range": [[1, 0], [3, 1.5], [1, 0], [3, 1.5]]}, "legend": {"labelExpr": "{'sme_int': 'SME internal', 'sme_rep': 'SME repeat obs', 'tc_int': 'TheCannon internal', 'tc_rep': 'TheCannon repeat obs'}[datum.label]"}}
     }},
    {"width": 116, "height": 116, "title": {"text": "σ([Mn/Fe])"},
     "transform": [{"filter": "datum.el == 'Mn' && isValid(datum.value)"}],
     "mark": {"type": "line", "strokeWidth": 0.9, "point": {"filled": true, "size": 5}},
     "encoding": {
       "x": {"field": "snr", "type": "quantitative", "scale": {"domain": [4, 136]}, "axis": null},
       "y": {"field": "value", "type": "quantitative", "title": null, "scale": {"domain": [0, 0.242]}, "axis": {"values": [0, 0.05, 0.1, 0.15, 0.2], "format": ".2f"}},
       "color": {"field": "series", "type": "nominal", "title": null, "scale": {"domain": ["sme_int", "sme_rep", "tc_int", "tc_rep"], "range": ["#000000", "#000000", "#ff0000", "#ff0000"]}, "legend": {"labelExpr": "{'sme_int': 'SME internal', 'sme_rep': 'SME repeat obs', 'tc_int': 'TheCannon internal', 'tc_rep': 'TheCannon repeat obs'}[datum.label]"}},
       "strokeDash": {"field": "series", "type": "nominal", "title": null, "scale": {"domain": ["sme_int", "sme_rep", "tc_int", "tc_rep"], "range": [[1, 0], [3, 1.5], [1, 0], [3, 1.5]]}, "legend": {"labelExpr": "{'sme_int': 'SME internal', 'sme_rep': 'SME repeat obs', 'tc_int': 'TheCannon internal', 'tc_rep': 'TheCannon repeat obs'}[datum.label]"}}
     }},
    {"width": 116, "height": 116, "title": {"text": "σ([Ni/Fe])"},
     "transform": [{"filter": "datum.el == 'Ni' && isValid(datum.value)"}],
     "mark": {"type": "line", "strokeWidth": 0.9, "point": {"filled": true, "size": 5}},
     "encoding": {
       "x": {"field": "snr", "type": "quantitative", "scale": {"domain": [4, 136]}, "axis": null},
       "y": {"field": "value", "type": "quantitative", "title": null, "scale": {"domain": [0, 0.242]}, "axis": {"values": [0, 0.05, 0.1, 0.15, 0.2], "format": ".2f"}},
       "color": {"field": "series", "type": "nominal", "title": null, "scale": {"domain": ["sme_int", "sme_rep", "tc_int", "tc_rep"], "range": ["#000000", "#000000", "#ff0000", "#ff0000"]}, "legend": {"labelExpr": "{'sme_int': 'SME internal', 'sme_rep': 'SME repeat obs', 'tc_int': 'TheCannon internal', 'tc_rep': 'TheCannon repeat obs'}[datum.label]"}},
       "strokeDash": {"field": "series", "type": "nominal", "title": null, "scale": {"domain": ["sme_int", "sme_rep", "tc_int", "tc_rep"], "range": [[1, 0], [3, 1.5], [1, 0], [3, 1.5]]}, "legend": {"labelExpr": "{'sme_int': 'SME internal', 'sme_rep': 'SME repeat obs', 'tc_int': 'TheCannon internal', 'tc_rep': 'TheCannon repeat obs'}[datum.label]"}}
     }},
    {"width": 116, "height": 116, "title": {"text": "σ([Cu/Fe])"},
     "transform": [{"filter": "datum.el == 'Cu' && isValid(datum.value)"}],
     "mark": {"type": "line", "strokeWidth": 0.9, "point": {"filled": true, "size": 5}},
     "encoding": {
       "x": {"field": "snr", "type": "quantitative", "scale": {"domain": [4, 136]}, "axis": {"values": [10, 40, 70, 100, 130], "labelAngle": -70, "title": "SNR CCD2"}},
       "y": {"field": "value", "type": "quantitative", "title": null, "scale": {"domain": [0, 0.168]}, "axis": {"values": [0, 0.05, 0.1, 0.15], "format": ".2f"}},
       "color": {"field": "series", "type": "nominal", "title": null, "scale": {"domain": ["sme_int", "sme_rep", "tc_int", "tc_rep"], "range": ["#000000", "#000000", "#ff0000", "#ff0000"]}, "legend": {"labelExpr": "{'sme_int': 'SME internal', 'sme_rep': 'SME repeat obs', 'tc_int': 'TheCannon internal', 'tc_rep': 'TheCannon repeat obs'}[datum.label]"}},
       "strokeDash": {"field": "series", "type": "nominal", "title": null, "scale": {"domain": ["sme_int", "sme_rep", "tc_int", "tc_rep"], "range": [[1, 0], [3, 1.5], [1, 0], [3, 1.5]]}, "legend": {"labelExpr": "{'sme_int': 'SME internal', 'sme_rep': 'SME repeat obs', 'tc_int': 'TheCannon internal', 'tc_rep': 'TheCannon repeat obs'}[datum.label]"}}
     }},
    {"width": 116, "height": 116, "title": {"text": "σ([Zn/Fe])"},
     "transform": [{"filter": "datum.el == 'Zn' && isValid(datum.value)"}],
     "mark": {"type": "line", "strokeWidth": 0.9, "point": {"filled": true, "size": 5}},
     "encoding": {
       "x": {"field": "snr", "type": "quantitative", "scale": {"domain": [4, 136]}, "axis": {"values": [10, 40, 70, 100, 130], "labelAngle": -70, "title": "SNR CCD2"}},
       "y": {"field": "value", "type": "quantitative", "title": null, "scale": {"domain": [0, 0.278]}, "axis": {"values": [0, 0.1, 0.2], "format": ".1f"}},
       "color": {"field": "series", "type": "nominal", "title": null, "scale": {"domain": ["sme_int", "sme_rep", "tc_int", "tc_rep"], "range": ["#000000", "#000000", "#ff0000", "#ff0000"]}, "legend": {"labelExpr": "{'sme_int': 'SME internal', 'sme_rep': 'SME repeat obs', 'tc_int': 'TheCannon internal', 'tc_rep': 'TheCannon repeat obs'}[datum.label]"}},
       "strokeDash": {"field": "series", "type": "nominal", "title": null, "scale": {"domain": ["sme_int", "sme_rep", "tc_int", "tc_rep"], "range": [[1, 0], [3, 1.5], [1, 0], [3, 1.5]]}, "legend": {"labelExpr": "{'sme_int': 'SME internal', 'sme_rep': 'SME repeat obs', 'tc_int': 'TheCannon internal', 'tc_rep': 'TheCannon repeat obs'}[datum.label]"}}
     }},
    {"width": 116, "height": 116, "title": {"text": "σ([Y/Fe])"},
     "transform": [{"filter": "datum.el == 'Y' && isValid(datum.value)"}],
     "mark": {"type": "line", "strokeWidth": 0.9, "point": {"filled": true, "size": 5}},
     "encoding": {
       "x": {"field": "snr", "type": "quantitative", "scale": {"domain": [4, 136]}, "axis": {"values": [10, 40, 70, 100, 130], "labelAngle": -70, "title": "SNR CCD2"}},
       "y": {"field": "value", "type": "quantitative", "title": null, "scale": {"domain": [0, 0.447]}, "axis": {"values": [0, 0.1, 0.2, 0.3, 0.4], "format": ".1f"}},
       "color": {"field": "series", "type": "nominal", "title": null, "scale": {"domain": ["sme_int", "sme_rep", "tc_int", "tc_rep"], "range": ["#000000", "#000000", "#ff0000", "#ff0000"]}, "legend": {"labelExpr": "{'sme_int': 'SME internal', 'sme_rep': 'SME repeat obs', 'tc_int': 'TheCannon internal', 'tc_rep': 'TheCannon repeat obs'}[datum.label]"}},
       "strokeDash": {"field": "series", "type": "nominal", "title": null, "scale": {"domain": ["sme_int", "sme_rep", "tc_int", "tc_rep"], "range": [[1, 0], [3, 1.5], [1, 0], [3, 1.5]]}, "legend": {"labelExpr": "{'sme_int': 'SME internal', 'sme_rep': 'SME repeat obs', 'tc_int': 'TheCannon internal', 'tc_rep': 'TheCannon repeat obs'}[datum.label]"}}
     }},
    {"width": 116, "height": 116, "title": {"text": "σ([Ba/Fe])"},
     "transform": [{"filter": "datum.el == 'Ba' && isValid(datum.value)"}],
     "mark": {"type": "line", "strokeWidth": 0.9, "point": {"filled": true, "size": 5}},
     "encoding": {
       "x": {"field": "snr", "type": "quantitative", "scale": {"domain": [4, 136]}, "axis": {"values": [10, 40, 70, 100, 130], "labelAngle": -70, "title": "SNR CCD2"}},
       "y": {"field": "value", "type": "quantitative", "title": null, "scale": {"domain": [0, 0.229]}, "axis": {"values": [0, 0.05, 0.1, 0.15, 0.2], "format": ".2f"}},
       "color": {"field": "series", "type": "nominal", "title": null, "scale": {"domain": ["sme_int", "sme_rep", "tc_int", "tc_rep"], "range": ["#000000", "#000000", "#ff0000", "#ff0000"]}, "legend": {"labelExpr": "{'sme_int': 'SME internal', 'sme_rep': 'SME repeat obs', 'tc_int': 'TheCannon internal', 'tc_rep': 'TheCannon repeat obs'}[datum.label]"}},
       "strokeDash": {"field": "series", "type": "nominal", "title": null, "scale": {"domain": ["sme_int", "sme_rep", "tc_int", "tc_rep"], "range": [[1, 0], [3, 1.5], [1, 0], [3, 1.5]]}, "legend": {"labelExpr": "{'sme_int': 'SME internal', 'sme_rep': 'SME repeat obs', 'tc_int': 'TheCannon internal', 'tc_rep': 'TheCannon repeat obs'}[datum.label]"}}
     }}
  ],
  "config": {
    "font": "DejaVu Sans",
    "view": {"stroke": "#777777", "strokeWidth": 1},
    "axis": {"grid": false, "domain": false, "tickColor": "#222222", "tickSize": 3.5, "tickWidth": 0.8, "labelFont": "DejaVu Sans", "labelFontSize": 11, "labelColor": "#000000", "labelPadding": 2, "titleFont": "DejaVu Sans", "titleFontSize": 13, "titleFontWeight": "normal", "titleColor": "#000000", "titlePadding": 4},
    "axisX": {"labelPadding": 1, "titlePadding": 0},
    "legend": {"orient": "none", "legendX": 441, "legendY": 7, "symbolType": "stroke", "symbolSize": 320, "symbolStrokeWidth": 1, "labelFont": "DejaVu Sans", "labelFontSize": 11, "labelColor": "#000000", "rowPadding": 0, "labelOffset": 7},
    "title": {"anchor": "end", "frame": "group", "offset": 0, "baseline": "bottom", "dy": 17, "dx": -5, "font": "DejaVu Sans", "fontSize": 13, "fontWeight": "normal", "fontStyle": "italic", "color": "#000000"}
  }
}
